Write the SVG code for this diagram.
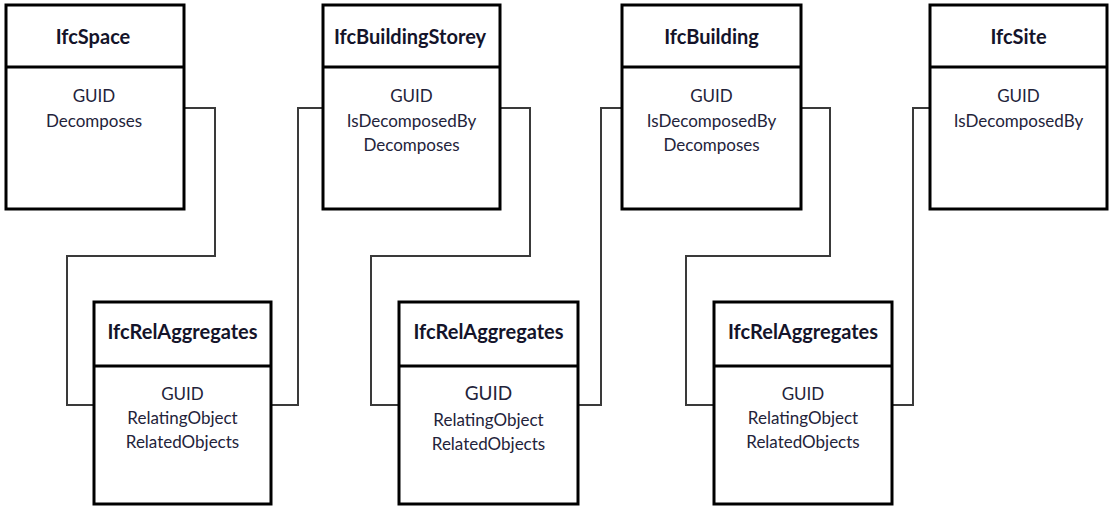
<svg xmlns="http://www.w3.org/2000/svg" width="1110" height="507" viewBox="0 0 1110 507">
  <style>
    .box { fill: #ffffff; stroke: #000000; stroke-width: 3; }
    .div { stroke: #000000; stroke-width: 3; }
    .title { font-family: Lato, "Liberation Sans", sans-serif; font-weight: bold; font-size: 20px; fill: #14142a; text-anchor: middle; }
    .attr { font-family: Lato, "Liberation Sans", sans-serif; font-size: 17px; fill: #23233a; text-anchor: middle; }
    .big { font-size: 19px; }
    .link { fill: none; stroke: #3a3a3a; stroke-width: 2; stroke-linejoin: miter; }
  </style>

  <!-- relationship connectors -->
  <g id="connectors">
    <path class="link" d="M184,108 H215 V256 H67 V405 H94"/>
    <path class="link" d="M271,405 H298 V108 H323"/>
    <path class="link" d="M500,108 H530 V256 H371 V405 H399"/>
    <path class="link" d="M578,405 H601 V108 H622"/>
    <path class="link" d="M801,108 H830 V256 H686 V405 H714"/>
    <path class="link" d="M892,405 H913 V108 H930"/>
  </g>

  <!-- spatial elements -->
  <g id="ifcspace">
    <rect class="box" x="6" y="5" width="178" height="204"/>
    <line class="div" x1="6" y1="67" x2="184" y2="67"/>
    <text class="title" x="93" y="44">IfcSpace</text>
    <text class="attr" x="94" y="102">GUID</text>
    <text class="attr" x="94" y="127">Decomposes</text>
  </g>

  <g id="ifcbuildingstorey">
    <rect class="box" x="323" y="5" width="177" height="204"/>
    <line class="div" x1="323" y1="67" x2="500" y2="67"/>
    <text class="title" x="410" y="44">IfcBuildingStorey</text>
    <text class="attr" x="411.5" y="102">GUID</text>
    <text class="attr" x="411.5" y="127">IsDecomposedBy</text>
    <text class="attr" x="411.5" y="151">Decomposes</text>
  </g>

  <g id="ifcbuilding">
    <rect class="box" x="622" y="5" width="179" height="204"/>
    <line class="div" x1="622" y1="67" x2="801" y2="67"/>
    <text class="title" x="711.5" y="44">IfcBuilding</text>
    <text class="attr" x="711.5" y="102">GUID</text>
    <text class="attr" x="711.5" y="127">IsDecomposedBy</text>
    <text class="attr" x="711.5" y="151">Decomposes</text>
  </g>

  <g id="ifcsite">
    <rect class="box" x="930" y="5" width="177" height="204"/>
    <line class="div" x1="930" y1="67" x2="1107" y2="67"/>
    <text class="title" x="1018.5" y="44">IfcSite</text>
    <text class="attr" x="1018.5" y="102">GUID</text>
    <text class="attr" x="1018.5" y="127">IsDecomposedBy</text>
  </g>

  <!-- aggregation relationships -->
  <g id="relaggregates-1">
    <rect class="box" x="94" y="302" width="177" height="202"/>
    <line class="div" x1="94" y1="366" x2="271" y2="366"/>
    <text class="title" x="182.5" y="339">IfcRelAggregates</text>
    <text class="attr" x="182.5" y="400">GUID</text>
    <text class="attr" x="182.5" y="424">RelatingObject</text>
    <text class="attr" x="182.5" y="448">RelatedObjects</text>
  </g>

  <g id="relaggregates-2">
    <rect class="box" x="399" y="302" width="179" height="202"/>
    <line class="div" x1="399" y1="366" x2="578" y2="366"/>
    <text class="title" x="488.5" y="339">IfcRelAggregates</text>
    <text class="attr big" x="488.5" y="400">GUID</text>
    <text class="attr" x="488.5" y="426">RelatingObject</text>
    <text class="attr" x="488.5" y="450">RelatedObjects</text>
  </g>

  <g id="relaggregates-3">
    <rect class="box" x="714" y="302" width="178" height="202"/>
    <line class="div" x1="714" y1="366" x2="892" y2="366"/>
    <text class="title" x="803" y="339">IfcRelAggregates</text>
    <text class="attr" x="803" y="400">GUID</text>
    <text class="attr" x="803" y="424">RelatingObject</text>
    <text class="attr" x="803" y="448">RelatedObjects</text>
  </g>
</svg>
